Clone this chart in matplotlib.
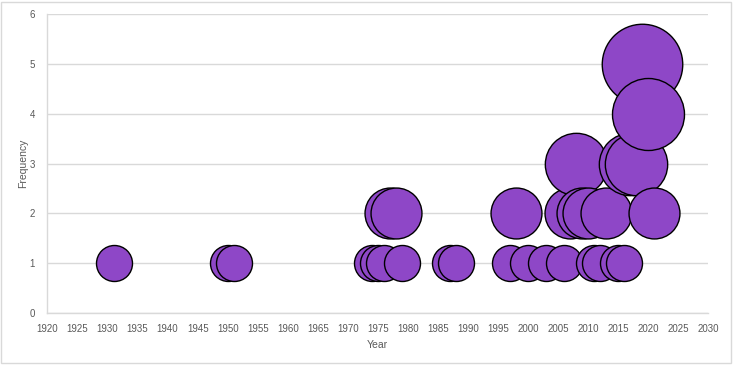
import matplotlib
matplotlib.use("Agg")
import matplotlib.pyplot as plt
from matplotlib.patches import Rectangle

# year of each bubble, its frequency (also the bubble size)
years = [1931, 1950, 1951, 1974, 1975, 1976, 1977, 1978, 1979, 1987, 1988,
         1997, 1998, 2000, 2003, 2006, 2007, 2008, 2009, 2010, 2011, 2012,
         2013, 2015, 2016, 2017, 2018, 2019, 2020, 2021]
freq = [1, 1, 1, 1, 1, 1, 2, 2, 1, 1, 1,
        1, 2, 1, 1, 1, 2, 3, 2, 2, 1, 1,
        2, 1, 1, 3, 3, 5, 4, 2]
x_ticks = list(range(1920, 2031, 5))
y_ticks = list(range(0, 7))

plt.rcParams['font.family'] = ['Liberation Sans', 'DejaVu Sans']
grey_txt = '#595959'
grid_col = '#D9D9D9'

fig = plt.figure(figsize=(7.33, 3.65), dpi=100)
ax = fig.add_axes([0.0648, 0.1425, 0.9012, 0.8191])

# Excel-like bubbles: area proportional to value, 36 px diameter for 1
unit = (36 * 0.72) ** 2
for xv, yv in zip(years, freq):
    ax.scatter(xv, yv, s=unit * yv, color='#8E47C7', edgecolor='black',
               linewidth=1.0, zorder=3, clip_on=False)

ax.set_xlim(1920, 2030)
ax.set_ylim(0, 6)
ax.set_xticks(x_ticks)
ax.set_yticks(y_ticks)
ax.grid(axis='y', color=grid_col, linewidth=1.0, zorder=0)
ax.tick_params(length=0, labelsize=7, colors=grey_txt)
ax.tick_params(axis='x', pad=8)
ax.tick_params(axis='y', pad=9)
for side in ['top', 'right']:
    ax.spines[side].set_visible(False)
for side in ['left', 'bottom']:
    ax.spines[side].set_color(grid_col)
    ax.spines[side].set_linewidth(1.0)

ax.set_xlabel('Year', fontsize=7.5, color=grey_txt, labelpad=4)
ax.set_ylabel('Frequency', fontsize=7.5, color=grey_txt, labelpad=1)

# chart area border
fig.patches.append(Rectangle((0.002, 0.005), 0.995, 0.99, transform=fig.transFigure,
                             fill=False, edgecolor=grid_col, linewidth=1.0))

fig.savefig('out.png', dpi=100)
